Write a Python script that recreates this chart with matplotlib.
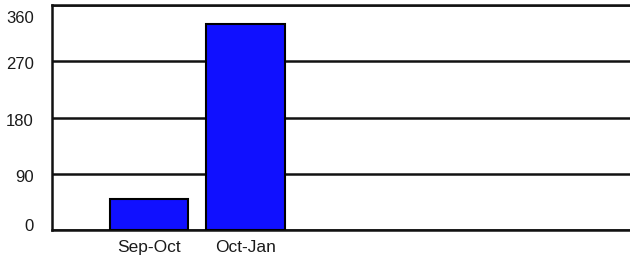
import matplotlib
matplotlib.use("Agg")
import matplotlib.pyplot as plt
import matplotlib.transforms as mtransforms

categories = ["Sep-Oct", "Oct-Jan"]
values = [49, 329]
y_ticks = [0, 90, 180, 270, 360]
y_tick_labels = ["0", "90", "180", "270", "360"]

plt.rcParams['font.family'] = ['Liberation Sans', 'DejaVu Sans']

fig = plt.figure(figsize=(6.3, 2.57), dpi=100)
ax = fig.add_axes([52/630, 27/257, 1.0 - 52/630 + 0.002, (230-5)/257])

x = list(range(len(categories)))
ax.bar(x, values, width=0.81, color="#1010FF", edgecolor="black", linewidth=1.5, zorder=3)

ax.set_xlim(-1.0, 4.99)
ax.set_ylim(0, 360)
ax.set_xticks(x)
ax.set_xticklabels(categories, fontsize=12.5, color="#1a1a1a")
ax.set_yticks(y_ticks)
ax.set_yticklabels(y_tick_labels, fontsize=12, color="#1a1a1a")
ax.tick_params(axis='both', length=0)
ax.tick_params(axis='y', pad=13)
ax.tick_params(axis='x', pad=7)

ax.yaxis.grid(True, color="#111111", linewidth=1.8, zorder=1)
ax.set_axisbelow(True)
for side in ["left", "bottom", "top"]:
    ax.spines[side].set_color("#111111")
    ax.spines[side].set_linewidth(1.8)
ax.spines["right"].set_visible(False)

# small vertical offsets of tick labels as in reference
offsets_px = [5, -2, -3, -2, -12]
for lab, off in zip(ax.get_yticklabels(), offsets_px):
    lab.set_transform(lab.get_transform() + mtransforms.ScaledTranslation(0, off/100, fig.dpi_scale_trans))

fig.savefig("out.png", dpi=100)
